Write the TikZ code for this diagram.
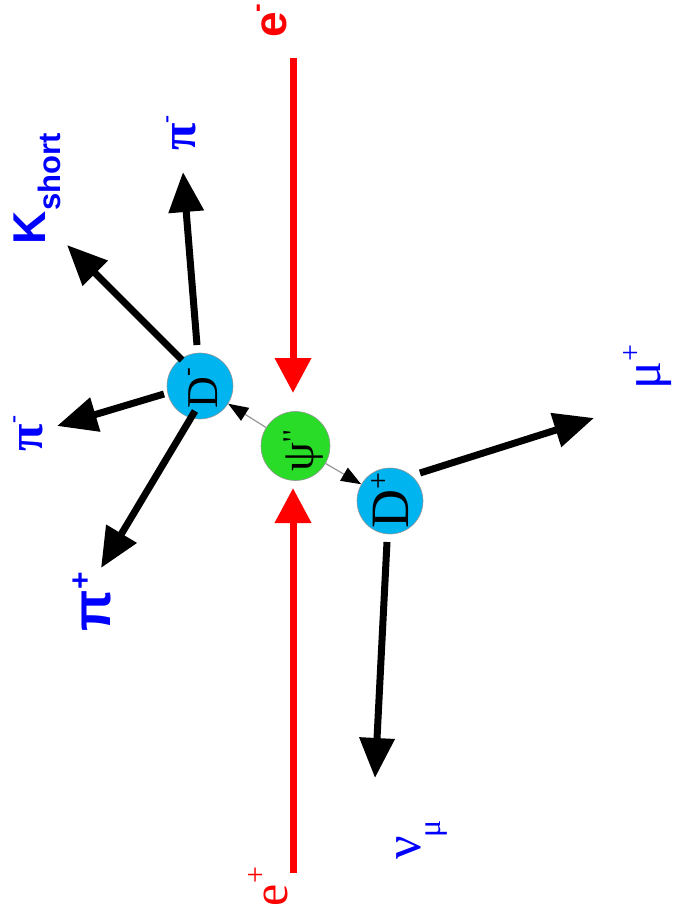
\documentclass[tikz,border=0pt]{standalone}
\usepackage{fontspec}
\setmainfont{Liberation Serif}
\newfontfamily\arialfont{Liberation Sans}
\usetikzlibrary{arrows.meta}
\definecolor{eblue}{RGB}{0,0,255}
\definecolor{ered}{RGB}{255,0,0}
\definecolor{dcyan}{RGB}{0,180,240}
\definecolor{psigreen}{RGB}{40,220,40}
\definecolor{stub}{RGB}{150,150,150}
\newcommand{\fs}[1]{\fontsize{#1}{#1}\selectfont}
\begin{document}
\begin{tikzpicture}[x=1pt,y=-1pt,
  particle/.style={circle, inner sep=0pt, draw=stub, line width=0.6pt},
  lbl/.style={rotate=90, anchor=base west, inner sep=0pt, outer sep=0pt},
  beam/.style={ered, line width=7pt, -{Triangle[length=35pt,width=35pt]}},
  track/.style={black, line width=7pt, -{Triangle[length=40pt,width=34pt]}},
  thin/.style={stub, line width=1.2pt, -{Triangle[length=20pt,width=15pt,color=black]}}
]
\useasboundingbox (0,0) rectangle (674,920);
% particles
\node[particle, fill=dcyan, minimum size=66pt] (dm) at (200,386) {};
\node[particle, fill=psigreen, minimum size=69pt] (psi) at (295.5,446) {};
\node[particle, fill=dcyan, minimum size=66pt] (dp) at (390,501) {};
% beams
\coordinate (btS) at (293,58);
\coordinate (btT) at (293,393);
\coordinate (bbS) at (293,873);
\coordinate (bbT) at (293,488);
\draw[beam] (btS) -- (btT);
\draw[beam] (bbS) -- (bbT);
% psi decays
\draw[thin] (psi) -- (dm);
\draw[thin] (psi) -- (dp);
% tracks from D-
\coordinate (kS) at (182,360);   \coordinate (kT) at (67,245);
\coordinate (p1S) at (197,345);  \coordinate (p1T) at (183,172);
\coordinate (p2S) at (164,394);  \coordinate (p2T) at (57,426);
\coordinate (p3S) at (195,411);  \coordinate (p3T) at (101,568);
\draw[track] (kS) -- (kT);
\draw[track] (p1S) -- (p1T);
\draw[track] (p2S) -- (p2T);
\draw[track] (p3S) -- (p3T);
% tracks from D+
\coordinate (muS) at (420,473);  \coordinate (muT) at (594,418);
\coordinate (nuS) at (387,542);  \coordinate (nuT) at (375,778);
\draw[track] (muS) -- (muT);
\draw[track] (nuS) -- (nuT);
% labels
\node[lbl, text=ered] (lem) at (286,38) {\arialfont\bfseries\fs{46}e\raisebox{21pt}{\fs{26}-}};
\node[lbl, text=ered] (lep) at (287,906) {\fs{50}e\raisebox{22pt}{\fs{30}+}};
\node[lbl, text=eblue] (lk) at (45,244) {\arialfont\bfseries\fs{46}K\raisebox{-15pt}{\fs{31}short}};
\node[lbl, text=eblue] (lp1) at (195,151) {\bfseries\fs{50}π\raisebox{22pt}{\fs{24}-}};
\node[lbl, text=eblue] (lp2) at (42,451) {\bfseries\fs{50}π\raisebox{22pt}{\fs{24}-}};
\node[lbl, text=eblue] (lp3) at (110,631) {\arialfont\bfseries\fs{54}π\raisebox{20pt}{\fs{30}+}};
\node[lbl, text=eblue] (lmu) at (660,389) {\fs{52}μ\raisebox{20pt}{\fs{30}+}};
\node[lbl, text=eblue] (lnu) at (420,859) {\fs{52}ν\kern-2pt\raisebox{-20pt}{\fs{32}μ}};
\node[lbl] (tdm) at (217,408) {\fs{44}D\raisebox{22pt}{\fs{26}-}};
\node[lbl] (tpsi) at (313,471) {\fs{46}ψ\raisebox{10pt}{\fs{30}\textquotesingle\kern1pt\textquotesingle}};
\node[lbl] (tdp) at (408,528) {\fs{54}D\raisebox{20pt}{\fs{30}+}};
\end{tikzpicture}
\end{document}
